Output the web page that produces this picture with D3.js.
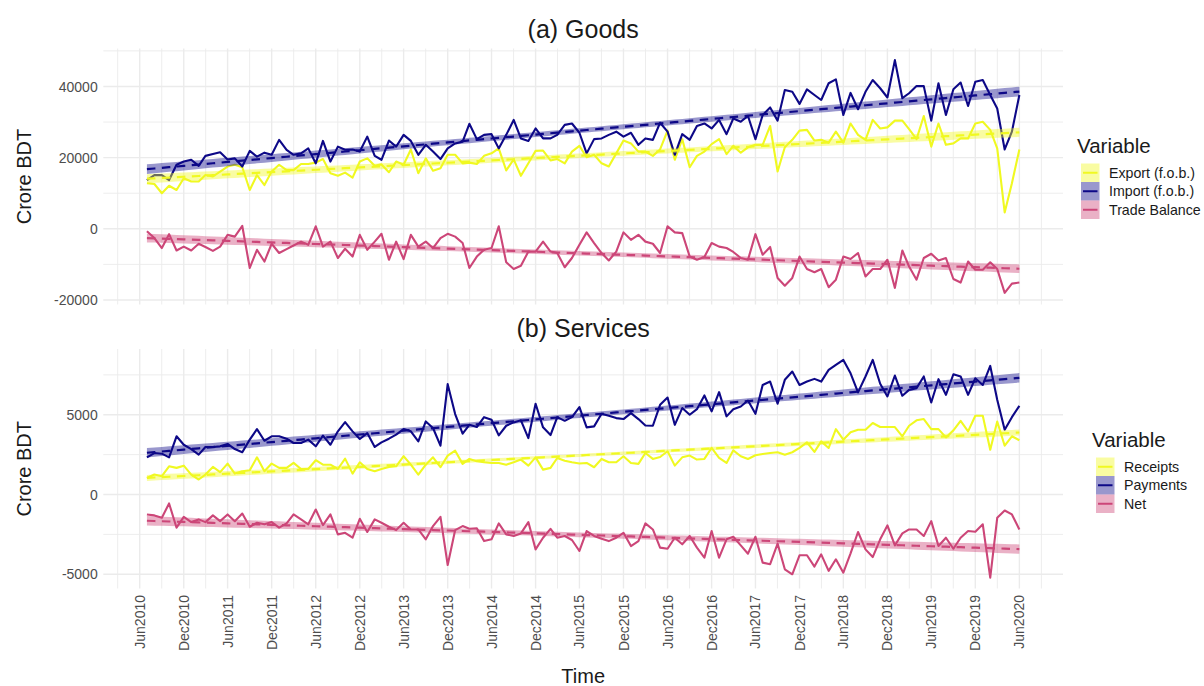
<!DOCTYPE html>
<html>
<head>
<meta charset="utf-8">
<script src="https://cdn.jsdelivr.net/npm/d3@7"></script>
<style>
  body { margin: 0; background: #ffffff; }
  svg { display: block; }
  text { font-family: "Liberation Sans", Arial, Helvetica, sans-serif; }
</style>
</head>
<body>
<svg id="chart" width="1204" height="686"></svg>
<script>
// Monthly series, Jul 2010 – Jun 2020 (crore BDT)
const firstMonth = "2010-07";
const lastMonth = "2020-06";

const tickLabels = ["Jun2010","Dec2010","Jun2011","Dec2011","Jun2012","Dec2012","Jun2013","Dec2013",
  "Jun2014","Dec2014","Jun2015","Dec2015","Jun2016","Dec2016","Jun2017","Dec2017","Jun2018",
  "Dec2018","Jun2019","Dec2019","Jun2020"];

const goodsNames = ["Export (f.o.b.)", "Import (f.o.b.)", "Trade Balance"];
const servicesNames = ["Receipts", "Payments", "Net"];
const seriesColors = ["#F0F921", "#0D0887", "#CC4678"];

const goodsTicks = [-20000, 0, 20000, 40000];
const servicesTicks = [-5000, 0, 5000];

const goodsExport = [
  12800,12600,10000,12100,10900,14200,13300,13300,15100,14700,
  16100,17500,18000,17300,10900,15100,12300,16100,18000,16500,
  16500,18200,18200,18600,19600,15600,14900,15800,14400,18900,
  19800,17700,18100,15900,18900,18000,22300,15600,19800,16300,
  17000,20800,20800,18400,18600,18200,20500,21200,22600,16400,
  19500,14900,18400,21900,22000,19200,19600,18400,21700,23300,
  20100,20800,18400,17500,21200,24800,24000,21700,21700,20500,
  22300,27600,19400,25200,17300,20500,21700,23800,25200,21000,
  23300,21400,22900,23600,23600,28900,16100,22900,25000,27600,
  27800,24800,25000,24200,27300,24200,29600,26400,25000,30600,
  28200,28500,30400,30400,28000,25200,31700,23100,29600,23600,
  24000,25400,25400,29600,30100,27800,22600,4600,12800,22300];

const goodsImport = [
  13700,15100,15100,13700,18000,18900,19400,17700,20500,21000,
  21500,19500,19800,17500,21900,20300,21400,20800,25000,22200,
  20800,21200,22600,18400,24700,18900,23100,22200,22300,21700,
  25900,20500,19400,24800,23100,26400,24700,20800,23600,21700,
  19600,22600,24000,24500,29500,25200,26400,26600,22600,26400,
  30600,25400,24700,28200,25400,25400,26400,29200,29600,27000,
  21200,25200,25400,26400,27300,25900,27000,23600,25400,25000,
  29800,27300,20800,26600,25000,28900,29600,28200,30600,26600,
  31000,30100,31700,25200,32000,34100,30400,39000,38500,35100,
  39200,37600,36200,40900,42000,32000,38200,33600,38500,41800,
  39500,36900,47400,36700,38100,40100,40100,30400,40900,32000,
  39200,41100,34500,41300,41800,37600,33800,22300,27300,37600];

const goodsBalance = [
  -700,-2600,-5400,-1500,-6100,-5000,-6100,-4200,-5100,-6200,
  -5000,-1700,-2200,800,-11000,-5900,-9200,-4200,-6800,-5700,
  -4700,-3600,-4500,700,-5000,-3600,-8200,-5600,-7800,-1700,
  -5900,-3600,-1400,-8700,-3600,-8500,-1700,-5000,-3600,-5400,
  -2600,-1400,-2200,-4000,-11000,-7800,-5900,-5400,700,-9400,
  -11300,-10400,-6400,-6400,-3600,-6400,-6800,-10800,-8200,-4500,
  -1000,-4000,-6800,-8900,-6400,-1000,-3100,-1700,-3600,-4200,
  -6800,700,-1000,-1200,-7800,-8700,-7900,-4000,-5000,-5400,
  -6500,-8200,-8700,-1500,-7300,-5100,-13800,-16000,-13800,-7800,
  -11300,-12200,-11300,-16400,-14300,-7800,-8500,-6800,-13400,-11300,
  -11300,-8700,-16600,-6100,-10600,-14300,-8200,-7000,-8900,-8200,
  -14100,-15100,-9200,-11500,-11500,-9400,-11300,-18000,-15400,-15100];

const servicesReceipts = [
  1040,1250,1150,1770,1670,1810,1250,940,1250,1730,
  1400,1940,1310,1460,1520,2330,1460,1940,1670,1670,
  1980,1600,1600,2150,1870,1870,1600,2250,1310,2020,
  1600,1460,1600,1730,1770,2400,1870,1250,1870,2330,
  1710,2440,2750,1920,2230,2080,2020,1980,1980,1870,
  2020,2190,1810,2330,1560,1670,2290,2120,2020,1940,
  1980,1710,2230,2020,2020,2400,1980,1920,2600,2230,
  2350,2710,1810,2330,2440,2190,2230,2920,2290,1980,
  2770,2400,2230,2460,2540,2600,2650,2500,2650,2920,
  3270,2670,3330,2920,4100,3440,3900,4060,4060,4480,
  4230,4230,4230,3650,4310,4650,4730,4100,4100,3580,
  4020,4620,3960,4940,4940,2810,4580,3060,3650,3400];

const servicesPayments = [
  2330,2600,2560,2330,3650,3120,2850,2500,2980,2980,
  3020,3170,2850,2650,3440,4100,3370,3650,3650,3500,
  3230,3230,3440,3020,3690,3120,3960,4540,3960,3480,
  3850,2980,3270,3500,3750,4100,3960,3330,4580,4170,
  3060,6920,5040,3810,4370,4230,4850,4690,3710,4310,
  4520,4650,3540,5690,4210,3730,4850,4620,4850,5480,
  4210,4270,5060,4940,4790,4730,5100,4730,4330,4310,
  5620,6080,4370,5420,5000,5350,6210,5210,6420,4900,
  5350,5520,5890,5060,6870,7080,5690,7190,7710,6870,
  7080,7250,7080,7810,8120,8440,7600,6400,7400,8440,
  6940,6150,7460,6190,6560,6670,7400,5770,7230,6250,
  7540,7400,6250,7290,6870,8060,5940,4060,4850,5560];

const servicesNet = [
  -1250,-1310,-1460,-560,-2080,-1400,-1730,-1560,-1730,-1310,
  -1670,-1250,-1670,-1190,-2020,-1770,-1870,-1730,-2080,-1810,
  -1250,-1560,-1870,-940,-1920,-1250,-2500,-2400,-2710,-1520,
  -2350,-1560,-1770,-2020,-2230,-1770,-2190,-2190,-2810,-1980,
  -1400,-4420,-2230,-1980,-2150,-2120,-2920,-2810,-1810,-2500,
  -2600,-2440,-1730,-3440,-2710,-2150,-2710,-2600,-2850,-3540,
  -2290,-2600,-2770,-2920,-2710,-2400,-3230,-2920,-1810,-2190,
  -3330,-3400,-2710,-3120,-2600,-3330,-3960,-2290,-3960,-2810,
  -2650,-3190,-3710,-2650,-4270,-4370,-3080,-4690,-5000,-3810,
  -3810,-4520,-3750,-4790,-4060,-4900,-3690,-2350,-3440,-3920,
  -2810,-1940,-3190,-2440,-2190,-2190,-2600,-1670,-3230,-2710,
  -3400,-2710,-2290,-2330,-1870,-5210,-1460,-1000,-1250,-2190];

// ---------------------------------------------------------------
const parseMonth = d3.timeParse("%Y-%m");
const parseTick = d3.timeParse("%b%Y");
const months = d3.timeMonth.range(parseMonth(firstMonth), d3.timeMonth.offset(parseMonth(lastMonth), 1));
const tickDates = tickLabels.map(parseTick);

const svg = d3.select("#chart");
const plotLeft = 103.3, plotRight = 1063;
const gridColor = "#EBEBEB";
const textGrey = "#4D4D4D";

// time axis with 5% padding on each side
const tSpan = months[months.length - 1] - months[0];
const x = d3.scaleTime()
  .domain([new Date(+months[0] - 0.05 * tSpan), new Date(+months[months.length - 1] + 0.05 * tSpan)])
  .range([plotLeft, plotRight]);

// ordinary least squares fit with 95% confidence band
function linearFit(values) {
  const n = values.length;
  const xs = values.map((_, i) => i);
  const mx = d3.mean(xs), my = d3.mean(values);
  let sxx = 0, sxy = 0;
  xs.forEach((xi, i) => { sxx += (xi - mx) ** 2; sxy += (xi - mx) * (values[i] - my); });
  const b = sxy / sxx, a = my - b * mx;
  let sse = 0;
  xs.forEach((xi, i) => { sse += (values[i] - (a + b * xi)) ** 2; });
  const s = Math.sqrt(sse / (n - 2));
  const t = 1.98;
  return xs.map(xi => {
    const fit = a + b * xi;
    const se = s * Math.sqrt(1 / n + (xi - mx) ** 2 / sxx);
    return { i: xi, fit, lo: fit - t * se, hi: fit + t * se };
  });
}

// minor breaks halfway between major ones, extended one half-step outside
function minorBreaks(major) {
  const out = [];
  for (let k = 0; k < major.length - 1; k++) out.push((+major[k] + +major[k + 1]) / 2);
  const step0 = +major[1] - +major[0], stepN = +major[major.length - 1] - +major[major.length - 2];
  out.unshift(+major[0] - step0 / 2);
  out.push(+major[major.length - 1] + stepN / 2);
  return out;
}

function drawPanel(cfg) {
  const g = svg.append("g");
  const fits = cfg.series.map(linearFit);
  const allVals = cfg.series.flat().concat(fits.flat().flatMap(f => [f.lo, f.hi]));
  const [vmin, vmax] = d3.extent(allVals);
  const pad = 0.05 * (vmax - vmin);
  const y = d3.scaleLinear().domain([vmin - pad, vmax + pad]).range([cfg.bottom, cfg.top]);
  const [d0, d1] = y.domain();
  const [t0, t1] = x.domain();

  // grid
  const yMinor = minorBreaks(cfg.ticks).filter(v => v >= d0 && v <= d1);
  const xMinor = minorBreaks(tickDates).filter(v => v >= +t0 && v <= +t1).map(v => new Date(v));
  g.append("g").selectAll("line").data(yMinor).join("line")
    .attr("x1", plotLeft).attr("x2", plotRight)
    .attr("y1", d => y(d)).attr("y2", d => y(d))
    .attr("stroke", gridColor).attr("stroke-width", 0.9);
  g.append("g").selectAll("line").data(xMinor).join("line")
    .attr("x1", d => x(d)).attr("x2", d => x(d))
    .attr("y1", cfg.top).attr("y2", cfg.bottom)
    .attr("stroke", gridColor).attr("stroke-width", 0.9);
  g.append("g").selectAll("line").data(cfg.ticks).join("line")
    .attr("x1", plotLeft).attr("x2", plotRight)
    .attr("y1", d => y(d)).attr("y2", d => y(d))
    .attr("stroke", gridColor).attr("stroke-width", 1.4);
  g.append("g").selectAll("line").data(tickDates).join("line")
    .attr("x1", d => x(d)).attr("x2", d => x(d))
    .attr("y1", cfg.top).attr("y2", cfg.bottom)
    .attr("stroke", gridColor).attr("stroke-width", 1.4);

  // y axis labels
  g.append("g").selectAll("text").data(cfg.ticks).join("text")
    .attr("x", 97.7).attr("y", d => y(d)).attr("dy", "0.36em")
    .attr("text-anchor", "end").attr("font-size", 14).attr("fill", textGrey)
    .text(d => d);

  // data lines
  const line = d3.line().x((d, i) => x(months[i])).y(d => y(d));
  cfg.series.forEach((vals, k) => {
    g.append("path").datum(vals).attr("d", line)
      .attr("fill", "none").attr("stroke", seriesColors[k]).attr("stroke-width", 2.1)
      .attr("stroke-linejoin", "round");
  });

  // trend bands and dashed fitted lines
  const area = d3.area().x(d => x(months[d.i])).y0(d => y(d.lo)).y1(d => y(d.hi));
  const fitLine = d3.line().x(d => x(months[d.i])).y(d => y(d.fit));
  fits.forEach((f, k) => {
    g.append("path").datum(f).attr("d", area)
      .attr("fill", seriesColors[k]).attr("fill-opacity", 0.42).attr("stroke", "none");
    g.append("path").datum(f).attr("d", fitLine)
      .attr("fill", "none").attr("stroke", seriesColors[k]).attr("stroke-width", 2.2)
      .attr("stroke-dasharray", "8.5,6.5");
  });

  // panel title
  g.append("text").attr("x", (plotLeft + plotRight) / 2).attr("y", cfg.titleY)
    .attr("text-anchor", "middle").attr("font-size", 25).attr("fill", "#1A1A1A")
    .text(cfg.title);

  // y axis title
  g.append("text")
    .attr("transform", `translate(24,${(cfg.top + cfg.bottom) / 2}) rotate(-90)`)
    .attr("text-anchor", "middle").attr("dominant-baseline", "central")
    .attr("font-size", 20).attr("fill", "#1A1A1A").text("Crore BDT");

  // legend
  const lg = g.append("g");
  lg.append("text").attr("x", cfg.legendX - 4).attr("y", cfg.legendY - 11)
    .attr("font-size", 20.5).attr("fill", "#1A1A1A").text("Variable");
  const keyH = 18.5, keyW = 18.5;
  cfg.names.forEach((name, k) => {
    const ky = cfg.legendY + k * keyH;
    lg.append("rect").attr("x", cfg.legendX).attr("y", ky).attr("width", keyW).attr("height", keyH)
      .attr("fill", seriesColors[k]).attr("fill-opacity", 0.42);
    lg.append("line").attr("x1", cfg.legendX + 2).attr("x2", cfg.legendX + keyW - 2)
      .attr("y1", ky + keyH / 2).attr("y2", ky + keyH / 2)
      .attr("stroke", seriesColors[k]).attr("stroke-width", 2);
    lg.append("text").attr("x", cfg.legendX + keyW + 9.5).attr("y", ky + keyH / 2).attr("dy", "0.36em")
      .attr("font-size", 14.2).attr("fill", "#1A1A1A").text(name);
  });
  return y;
}

drawPanel({
  title: "(a) Goods", titleY: 38, top: 48.5, bottom: 304.5,
  series: [goodsExport, goodsImport, goodsBalance], names: goodsNames, ticks: goodsTicks,
  legendX: 1081, legendY: 163.5
});
drawPanel({
  title: "(b) Services", titleY: 337, top: 349, bottom: 588.5,
  series: [servicesReceipts, servicesPayments, servicesNet], names: servicesNames, ticks: servicesTicks,
  legendX: 1096, legendY: 457.5
});

// shared time axis labels under the lower panel
svg.append("g").selectAll("text").data(tickDates).join("text")
  .attr("transform", d => `translate(${x(d)},595) rotate(-90)`)
  .attr("text-anchor", "end").attr("dy", "0.36em")
  .attr("font-size", 14).attr("fill", textGrey)
  .text((d, i) => tickLabels[i]);

svg.append("text").attr("x", (plotLeft + plotRight) / 2).attr("y", 683)
  .attr("text-anchor", "middle").attr("font-size", 20).attr("fill", "#1A1A1A").text("Time");
</script>
</body>
</html>
